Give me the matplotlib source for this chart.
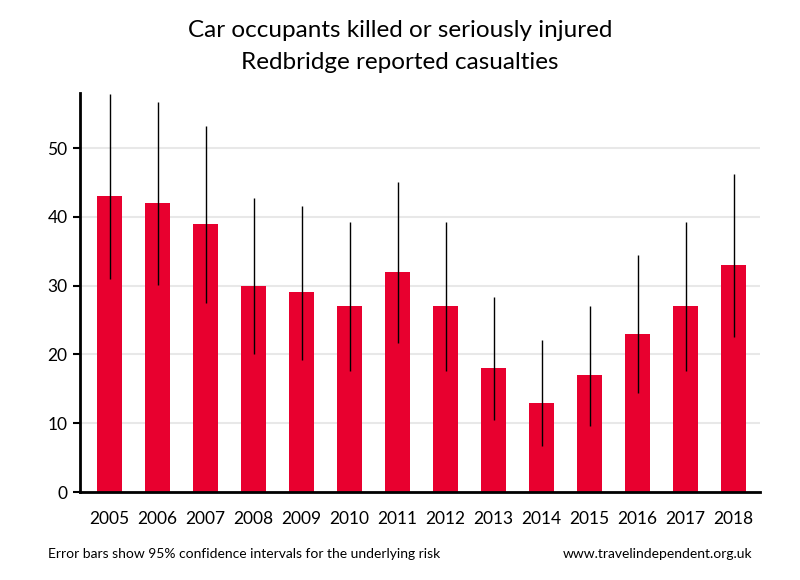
import matplotlib.pyplot as plt

anios = ['2005', '2006', '2007', '2008', '2009', '2010', '2011',
         '2012', '2013', '2014', '2015', '2016', '2017', '2018']
victimas = [43, 42, 39, 30, 29, 27, 32, 27, 18, 13, 17, 23, 27, 33]
ic_inferior = [31.0, 30.1, 27.5, 20.1, 19.2, 17.6, 21.7, 17.6, 10.5, 6.7, 9.6, 14.4, 17.6, 22.6]
ic_superior = [57.9, 56.7, 53.2, 42.7, 41.6, 39.2, 45.1, 39.2, 28.3, 22.1, 27.0, 34.4, 39.2, 46.2]

plt.rcParams['font.family'] = ['Lato', 'DejaVu Sans']

fig = plt.figure(figsize=(8, 5.8), dpi=100)
ax = fig.add_axes([0.1, 0.1517, 0.85, 0.688])

x = range(len(anios))
ax.bar(x, victimas, width=0.52, color='#E8002F', zorder=2)
ax.vlines(x, ic_inferior, ic_superior, color='black', linewidth=1, zorder=3)

ax.set_xlim(-0.615, 13.55)
ax.set_ylim(0, 58)
ax.set_yticks([0, 10, 20, 30, 40, 50])
ax.set_xticks(list(x))
ax.set_xticklabels(anios)
ax.tick_params(axis='x', length=0, pad=14, labelsize=12.5)
ax.tick_params(axis='y', length=5, width=1.5, labelsize=12.5, pad=4)
ax.grid(axis='y', color='#e8e8e8', linewidth=1.5, zorder=0)
ax.set_axisbelow(True)

for lado in ['top', 'right']:
    ax.spines[lado].set_visible(False)
ax.spines['left'].set_linewidth(2)
ax.spines['bottom'].set_linewidth(2)

# titulo en dos lineas
fig.text(0.5, 0.948, 'Car occupants killed or seriously injured',
         ha='center', va='center', fontsize=17.5)
fig.text(0.5, 0.893, 'Redbridge reported casualties',
         ha='center', va='center', fontsize=17.5)
fig.text(0.06, 0.045, 'Error bars show 95% confidence intervals for the underlying risk',
         ha='left', va='center', fontsize=10)
fig.text(0.94, 0.045, 'www.travelindependent.org.uk',
         ha='right', va='center', fontsize=10)

fig.savefig('out.png', dpi=100)
